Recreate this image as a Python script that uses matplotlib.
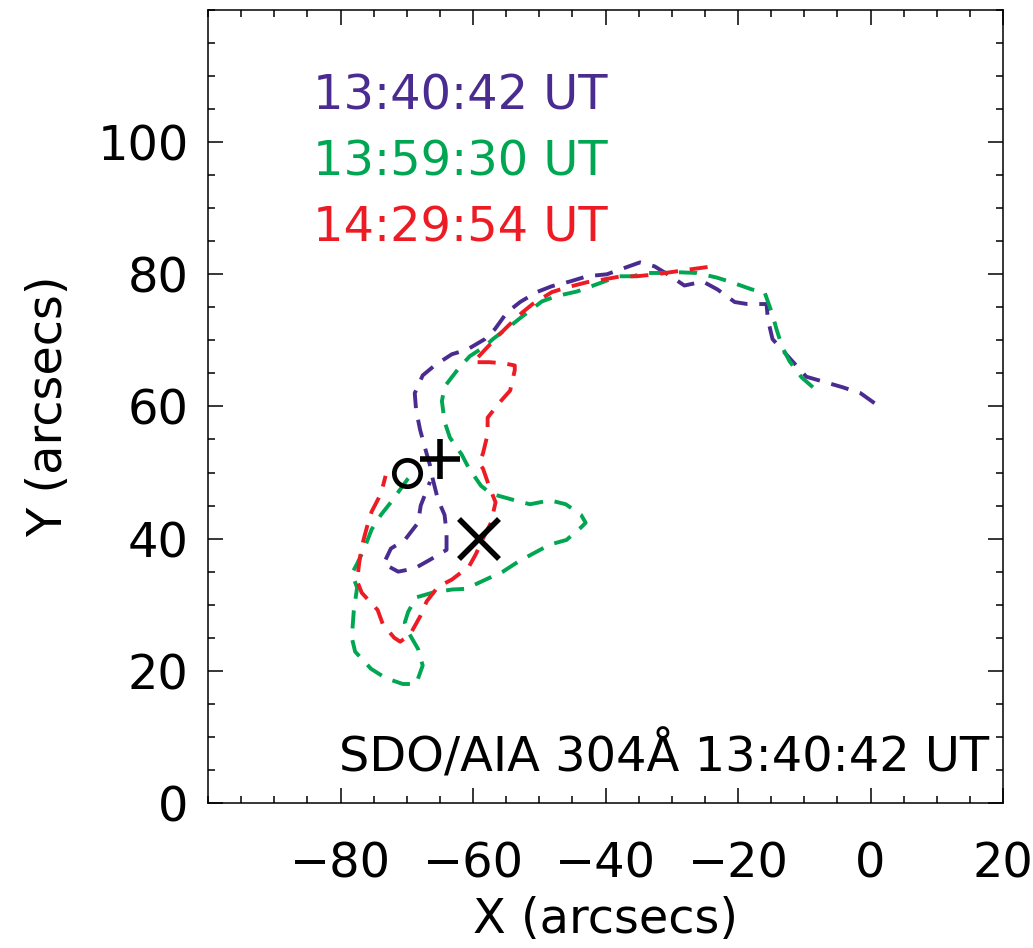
import matplotlib
matplotlib.use("Agg")
import matplotlib.pyplot as plt
from matplotlib.ticker import MultipleLocator

# Contour traces of the 304 A brightening at three times (arcsec)
x_1340 = [0.6, -1.5, -4.2, -6.6, -9.7, -14.8, -15.5, -15.7, -18.6, -20.5, -23.1, -25.3,
          -28.1, -30.3, -32.6, -34.8, -37.6, -39.8, -42.8, -45.4, -48.1, -50.4, -52.9,
          -54.9, -56.7, -58.2, -60.9, -63.2, -65.8, -67.6, -68.8, -68.6, -68.0, -67.3,
          -66.5, -66.1, -65.3, -64.3, -64.0, -64.0, -66.5, -68.8, -71.3, -73.5, -72.4,
          -70.3, -68.3, -67.9, -66.5]
y_1340 = [60.5, 62.0, 62.9, 63.6, 64.5, 70.2, 73.2, 75.5, 75.5, 75.8, 77.7, 78.9,
          78.3, 79.8, 81.2, 81.8, 80.8, 80.0, 79.7, 78.9, 78.2, 77.3, 75.8,
          74.2, 71.7, 70.2, 68.6, 67.9, 66.2, 64.7, 62.0, 59.5, 56.5, 53.9,
          51.1, 49.1, 45.9, 43.6, 40.9, 38.3, 36.8, 35.5, 35.0, 36.2, 38.5,
          39.8, 42.4, 45.0, 48.6]

x_1359 = [-8.7, -10.4, -12.2, -13.3, -14.2, -14.8, -16.0, -17.9, -21.0, -23.2, -26.2,
          -28.8, -31.8, -33.8, -35.9, -37.9, -39.4, -42.1, -44.3, -47.4, -49.6, -52.6,
          -54.1, -57.0, -58.2, -60.5, -62.3, -64.3, -64.7, -64.3, -63.5, -61.7, -60.6,
          -58.8, -57.3, -53.7, -51.4, -48.4, -46.0, -43.7, -43.0, -43.7, -45.9, -48.4,
          -51.0, -53.2, -55.5, -58.1, -61.1, -63.2, -66.2, -68.6, -69.8, -70.3, -69.8,
          -68.3, -67.6, -68.6, -70.6, -73.2, -75.4, -77.8, -78.3, -78.0, -77.5, -78.3,
          -77.5, -76.5, -75.3, -73.9, -72.4, -69.8, -68.8]
y_1359 = [62.9, 64.4, 66.8, 68.9, 71.7, 73.9, 77.3, 77.7, 78.8, 79.5, 80.2,
          80.3, 80.2, 80.2, 79.7, 79.7, 79.2, 78.2, 77.4, 76.7, 75.9, 73.6,
          72.4, 70.2, 69.1, 67.6, 65.6, 63.0, 60.8, 57.7, 55.3, 52.7, 50.6,
          48.0, 46.8, 45.8, 45.2, 45.8, 45.2, 43.6, 42.4, 41.7, 39.8, 39.1,
          37.7, 36.5, 35.0, 33.8, 32.4, 32.3, 31.8, 31.1, 28.9, 27.3, 25.9,
          23.3, 20.8, 18.0, 18.0, 18.9, 20.3, 22.9, 25.0, 29.1, 32.6, 34.7,
          36.2, 38.3, 41.4, 43.6, 45.5, 49.1, 50.2]

x_1429 = [-24.6, -26.8, -30.3, -32.3, -35.3, -37.6, -40.4, -42.8, -45.9, -48.1, -51.0,
          -52.6, -54.8, -56.4, -59.3, -60.0, -57.5, -55.2, -53.7, -53.7, -54.4, -56.0,
          -57.8, -57.8, -58.5, -59.1, -58.5, -57.6, -56.6, -57.3, -58.4, -59.6, -60.6,
          -63.2, -65.3, -67.0, -68.0, -69.5, -71.0, -71.9, -73.6, -74.4, -76.8, -77.5,
          -77.2, -76.8, -76.0, -75.3, -73.9, -73.2]
y_1429 = [81.1, 80.8, 80.3, 80.0, 79.7, 79.7, 79.2, 78.8, 78.0, 77.3, 75.5,
          74.2, 72.1, 70.5, 67.4, 66.7, 66.7, 66.5, 66.2, 65.5, 62.4, 60.6,
          58.3, 55.8, 52.9, 51.4, 50.6, 48.0, 45.5, 42.4, 40.2, 37.6, 35.8,
          33.8, 32.7, 30.5, 28.2, 25.5, 24.4, 25.0, 27.0, 29.2, 31.8, 33.6,
          36.2, 38.8, 41.8, 44.1, 46.8, 49.5]

times = ["13:40:42 UT", "13:59:30 UT", "14:29:54 UT"]
colors = ["#4a2c90", "#00a651", "#ed1c24"]

# Reference points: circle, plus and cross
circle_xy = (-70.0, 50.0)
plus_xy = (-65.0, 52.1)
cross_xy = (-59.1, 40.0)

title_text = "SDO/AIA 304Å 13:40:42 UT"

plt.rcParams["font.family"] = ["DejaVu Sans"]
plt.rcParams["lines.scale_dashes"] = False

fig = plt.figure(figsize=(10.33, 9.48), dpi=100)
ax = fig.add_axes([0.2014, 0.153, 0.7696, 0.8365])

dash = (0, (13, 8.5))
for xs, ys, c in zip([x_1340, x_1359, x_1429], [y_1340, y_1359, y_1429], colors):
    ax.plot(xs, ys, color=c, lw=2.8, linestyle=dash)

ax.plot(*circle_xy, marker="o", ms=19, mfc="none", mec="black", mew=3.4)
ax.plot(*plus_xy, marker="+", ms=29, mec="black", mew=4.0)
ax.plot(*cross_xy, marker="x", ms=29.5, mec="black", mew=4.0)

ax.set_xlim(-100, 20)
ax.set_ylim(0, 120)
ax.xaxis.set_major_locator(MultipleLocator(20))
ax.xaxis.set_minor_locator(MultipleLocator(5))
ax.yaxis.set_major_locator(MultipleLocator(20))
ax.yaxis.set_minor_locator(MultipleLocator(5))
ax.set_xticks([-80, -60, -40, -20, 0, 20])
ax.set_yticks([0, 20, 40, 60, 80, 100])

ax.tick_params(which="both", direction="in", top=True, right=True, width=1.1)
ax.tick_params(which="major", length=10.8)
ax.tick_params(which="minor", length=5)
ax.tick_params(axis="x", which="major", pad=27, labelsize=34.5)
ax.tick_params(axis="y", which="major", pad=14, labelsize=34.5)
for s in ax.spines.values():
    s.set_linewidth(1.1)

ax.set_xlabel("X (arcsecs)", fontsize=34.5, labelpad=6)
ax.set_ylabel("Y (arcsecs)", fontsize=34.5, labelpad=18)

for i, (t, c) in enumerate(zip(times, colors)):
    ax.text(-84.2, 105 - 10 * i, t, color=c, fontsize=34.5, va="baseline", ha="left")

ax.text(17.9, 4.7, title_text, color="black", fontsize=34.5, va="baseline", ha="right")

fig.savefig("out.png", dpi=100)
